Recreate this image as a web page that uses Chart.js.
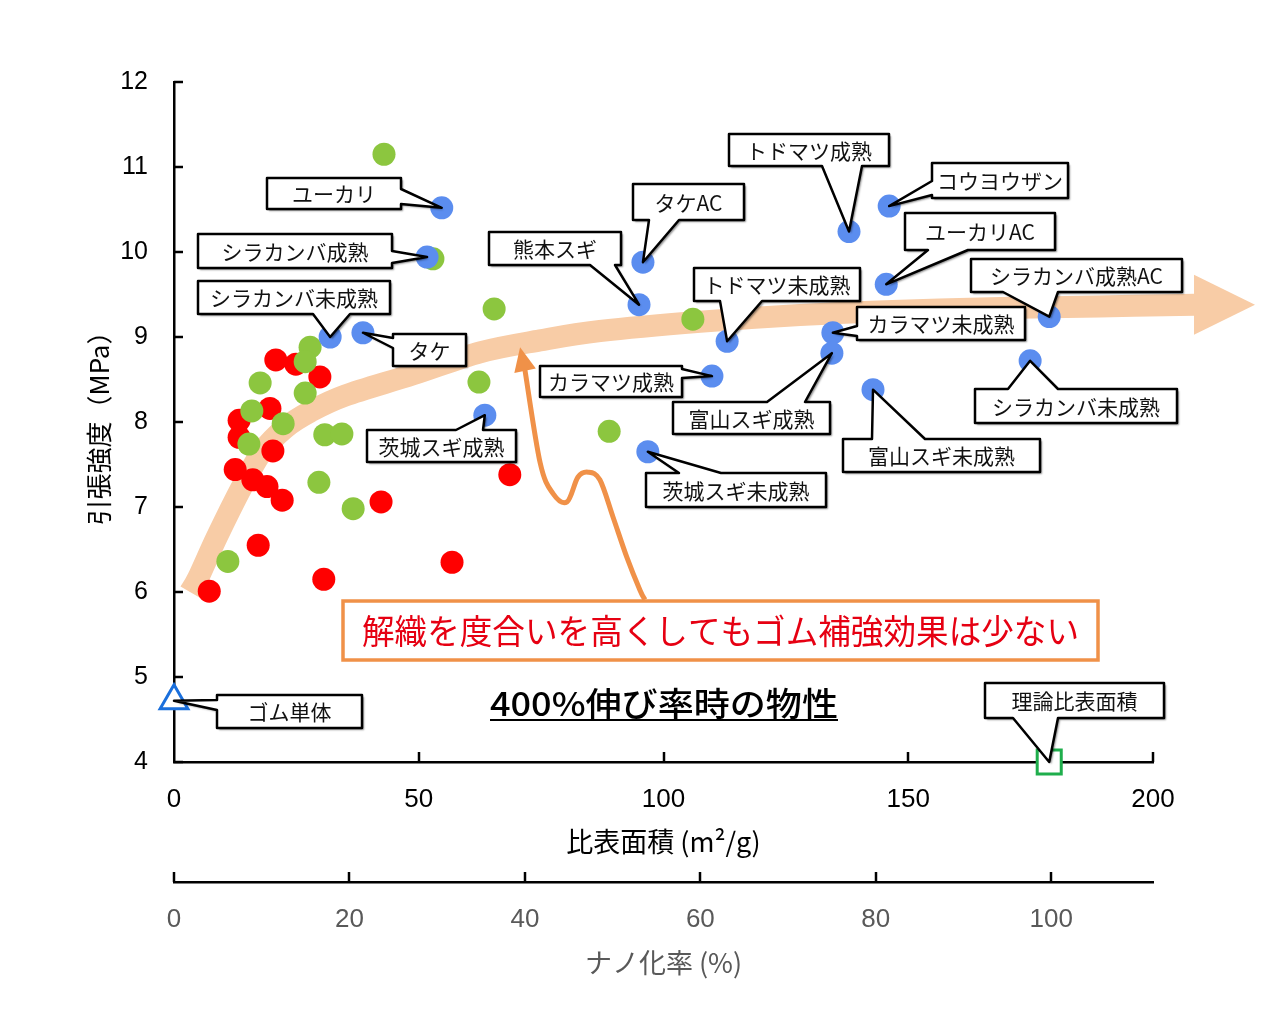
<!DOCTYPE html>
<html><head><meta charset="utf-8">
<script src="https://cdn.jsdelivr.net/npm/chart.js@4.4.0/dist/chart.umd.min.js"></script>
<style>html,body{margin:0;padding:0;background:#fff;}#wrap{width:1280px;height:1023px;}</style>
</head><body><div id="wrap"><canvas id="c" width="1280" height="1023"></canvas></div>
<script>
// ---------- data ----------
const xTicks = [0, 50, 100, 150, 200];
const yTicks = [4, 5, 6, 7, 8, 9, 10, 11, 12];
const nanoTicks = [0, 20, 40, 60, 80, 100];

const blueNames = ['ユーカリ','シラカンバ成熟','シラカンバ未成熟','タケ','茨城スギ成熟','熊本スギ','タケAC','トドマツ成熟','コウヨウザン','ユーカリAC','トドマツ未成熟','カラマツ成熟','茨城スギ未成熟','カラマツ未成熟','富山スギ成熟','富山スギ未成熟','シラカンバ成熟AC','シラカンバ未成熟'];
const blueX = [54.7, 51.7, 31.9, 38.6, 63.5, 95.0, 95.8, 137.9, 146.1, 145.5, 113.0, 109.9, 96.8, 134.6, 134.4, 142.8, 178.8, 174.9];
const blueY = [10.52, 9.94, 9.00, 9.05, 8.08, 9.38, 9.88, 10.24, 10.54, 9.62, 8.95, 8.54, 7.65, 9.05, 8.81, 8.38, 9.24, 8.72];

const greenX = [27.8, 26.8, 17.6, 26.8, 15.9, 22.3, 15.3, 30.8, 34.3, 29.6, 36.6, 11.0, 42.9, 52.9, 65.4, 62.3, 106.0, 88.9];
const greenY = [8.88, 8.71, 8.46, 8.34, 8.13, 7.98, 7.74, 7.85, 7.86, 7.29, 6.98, 6.36, 11.15, 9.92, 9.33, 8.47, 9.21, 7.89];

const redX = [20.8, 24.9, 29.8, 13.3, 19.6, 13.3, 20.2, 12.5, 16.1, 19.0, 22.1, 17.2, 7.2, 30.6, 42.3, 56.8, 68.6];
const redY = [8.73, 8.68, 8.53, 8.02, 8.16, 7.82, 7.66, 7.44, 7.32, 7.24, 7.08, 6.55, 6.01, 6.15, 7.06, 6.35, 7.38];

const rubberName = 'ゴム単体';
const rubberX = [0];
const rubberY = [4.72];
const theoryName = '理論比表面積';
const theoryX = [178.8];
const theoryY = [4.0];

// trend band (decorative arrow) and the thin orange arrow, in data units
const trendX = [3.27, 4.90, 8.78, 13.89, 17.98, 22.68, 27.78, 34.93, 48.82, 62.51, 74.77, 87.03, 107.46, 127.89, 148.31, 168.74, 189.17, 208.58];
const trendY = [6.00, 6.16, 6.65, 7.24, 7.65, 7.93, 8.12, 8.31, 8.56, 8.82, 8.96, 9.07, 9.18, 9.26, 9.31, 9.34, 9.36, 9.38];
const trendTip = [220.84, 9.38];
const wiggleX = [96.2, 95.2, 92.5, 89.7, 87.0, 84.6, 82.5, 80.3, 77.4, 74.8, 71.7];
const wiggleY = [5.91, 6.02, 6.41, 6.88, 7.32, 7.41, 7.35, 7.06, 7.16, 7.52, 8.61];
const wiggleTip = [70.7, 8.88];

const noteText = '解織を度合いを高くしてもゴム補強効果は少ない';
const subTitle = '400%伸び率時の物性';

// ---------- layout of callouts (pixel offsets relative to point) ----------
// [dx, dy, w, h, side, a, b]
const blueCallouts = [
  [-175, -30, 134, 31, 'r', 11, 26],
  [-229, -23, 194, 34, 'r', 17, 29],
  [-132, -56, 192, 33, 'b', 115, 152],
  [30, 1, 73, 32, 'l', 4, 14],
  [-118, 15, 149, 32, 't', 89, 116],
  [-150, -73, 132, 33, 'b', 101, 126],
  [-10, -78, 111, 36, 'b', 16, 46],
  [-120, -98, 160, 32, 'b', 93, 133],
  [43, -43, 136, 35, 'l', 18, 32],
  [19, -71, 150, 37, 'b', 23, 63],
  [-33, -73, 166, 33, 'b', 26, 68],
  [-172, -10, 142, 31, 'r', 3, 12],
  [-2, 21, 180, 34, 't', 33, 75],
  [24, -26, 168, 33, 'l', 19, 29],
  [-159, 49, 157, 32, 't', 94, 132],
  [-30, 49, 197, 33, 't', 29, 82],
  [-78, -58, 211, 33, 'b', 32, 87],
  [-55, 28, 202, 34, 't', 33, 83]
];
const rubberCallout = [43, -6, 145, 33, 'l', 5, 15];
const theoryCallout = [-64, -79, 179, 35, 'b', 28, 73];

const JP = '"Noto Sans CJK JP", "Noto Sans", sans-serif';
const NUM = '"Liberation Sans", Arial, sans-serif';

function pts(xs, ys) { return xs.map((v, i) => ({x: v, y: ys[i]})); }

function smoothPath(ctx, p) {
  ctx.moveTo(p[0][0], p[0][1]);
  for (let i = 0; i < p.length - 1; i++) {
    const p0 = p[i - 1] || p[i], p1 = p[i], p2 = p[i + 1], p3 = p[i + 2] || p2;
    const t = 1 / 6;
    ctx.bezierCurveTo(p1[0] + (p2[0] - p0[0]) * t, p1[1] + (p2[1] - p0[1]) * t,
                      p2[0] - (p3[0] - p1[0]) * t, p2[1] - (p3[1] - p1[1]) * t, p2[0], p2[1]);
  }
}

function calloutPath(ctx, L, T, W, H, side, a, b, tx, ty) {
  ctx.beginPath();
  ctx.moveTo(L, T);
  if (side === 't') { ctx.lineTo(L + a, T); ctx.lineTo(tx, ty); ctx.lineTo(L + b, T); }
  ctx.lineTo(L + W, T);
  if (side === 'r') { ctx.lineTo(L + W, T + a); ctx.lineTo(tx, ty); ctx.lineTo(L + W, T + b); }
  ctx.lineTo(L + W, T + H);
  if (side === 'b') { ctx.lineTo(L + b, T + H); ctx.lineTo(tx, ty); ctx.lineTo(L + a, T + H); }
  ctx.lineTo(L, T + H);
  if (side === 'l') { ctx.lineTo(L, T + b); ctx.lineTo(tx, ty); ctx.lineTo(L, T + a); }
  ctx.closePath();
}

function drawCallout(ctx, px, py, cfg, text) {
  const [dx, dy, w, h, side, a, b] = cfg;
  const L = Math.round(px + dx), T = Math.round(py + dy);
  ctx.save();
  calloutPath(ctx, L, T, w, h, side, a, b, px, py);
  ctx.shadowColor = 'rgba(0,0,0,0.45)';
  ctx.shadowOffsetX = 2; ctx.shadowOffsetY = 2; ctx.shadowBlur = 2;
  ctx.fillStyle = '#fff';
  ctx.fill();
  ctx.shadowColor = 'transparent';
  ctx.lineWidth = 2.5; ctx.strokeStyle = '#000'; ctx.lineJoin = 'round';
  ctx.stroke();
  ctx.fillStyle = '#111';
  ctx.font = '21px ' + JP;
  ctx.textAlign = 'center'; ctx.textBaseline = 'middle';
  ctx.fillText(text, L + w / 2, T + h / 2 + 1);
  ctx.restore();
}

const decor = {
  id: 'decor',
  beforeDatasetsDraw(chart) {
    const ctx = chart.ctx, xs = chart.scales.x, ys = chart.scales.y;
    const X = v => xs.getPixelForValue(v), Y = v => ys.getPixelForValue(v);
    ctx.save();
    // peach trend arrow
    const tp = trendX.map((v, i) => [X(v), Y(trendY[i])]);
    ctx.beginPath(); smoothPath(ctx, tp);
    ctx.strokeStyle = 'rgba(248,204,166,1)'; ctx.lineWidth = 22; ctx.lineCap = 'butt'; ctx.stroke();
    const last = tp[tp.length - 1];
    ctx.beginPath();
    ctx.moveTo(last[0] - 1, last[1] - 30); ctx.lineTo(X(trendTip[0]), Y(trendTip[1])); ctx.lineTo(last[0] - 1, last[1] + 30); ctx.closePath();
    ctx.fillStyle = 'rgba(248,204,166,1)'; ctx.fill();
    // thin orange arrow
    const wp = wiggleX.map((v, i) => [X(v), Y(wiggleY[i])]);
    ctx.beginPath(); smoothPath(ctx, wp);
    ctx.strokeStyle = '#f09148'; ctx.lineWidth = 5; ctx.lineCap = 'butt'; ctx.stroke();
    const wl = wp[wp.length - 1], tx = X(wiggleTip[0]), ty = Y(wiggleTip[1]);
    const ang = Math.atan2(ty - wl[1], tx - wl[0]);
    const hl = 24, hw = 11;
    ctx.beginPath();
    ctx.moveTo(tx, ty);
    ctx.lineTo(tx - hl * Math.cos(ang) + hw * Math.sin(ang), ty - hl * Math.sin(ang) - hw * Math.cos(ang));
    ctx.lineTo(tx - hl * Math.cos(ang) - hw * Math.sin(ang), ty - hl * Math.sin(ang) + hw * Math.cos(ang));
    ctx.closePath(); ctx.fillStyle = '#f09148'; ctx.fill();
    ctx.restore();
  },
  afterDatasetsDraw(chart) {
    const ctx = chart.ctx, xs = chart.scales.x, ys = chart.scales.y;
    const X = v => xs.getPixelForValue(v), Y = v => ys.getPixelForValue(v);
    // callouts
    blueNames.forEach((n, i) => drawCallout(ctx, X(blueX[i]), Y(blueY[i]), blueCallouts[i], n));
    drawCallout(ctx, X(rubberX[0]), Y(rubberY[0]), rubberCallout, rubberName);
    drawCallout(ctx, X(theoryX[0]), Y(theoryY[0]), theoryCallout, theoryName);
    // note box
    ctx.save();
    const bx = 343, by = 601, bw = 755, bh = 59;
    ctx.fillStyle = '#fff'; ctx.fillRect(bx, by, bw, bh);
    ctx.strokeStyle = '#f09148'; ctx.lineWidth = 3.5; ctx.strokeRect(bx, by, bw, bh);
    ctx.font = '34px ' + JP; ctx.fillStyle = '#e60012';
    ctx.textAlign = 'center'; ctx.textBaseline = 'middle';
    const mw = ctx.measureText(noteText).width, target = 717;
    ctx.translate(bx + bw / 2, by + bh / 2 + 1);
    ctx.scale(target / mw, 1);
    ctx.fillText(noteText, 0, 0);
    ctx.restore();
    // subtitle
    ctx.save();
    ctx.font = '500 33px ' + JP; ctx.fillStyle = '#000';
    ctx.textAlign = 'center'; ctx.textBaseline = 'middle';
    const sw = ctx.measureText(subTitle).width, st = 348;
    ctx.translate(664, 703);
    ctx.scale(st / sw, 1);
    ctx.fillText(subTitle, 0, 0);
    ctx.restore();
    ctx.save();
    ctx.fillStyle = '#000'; ctx.fillRect(490, 719, 348, 2);
    ctx.restore();
  },
  afterDraw(chart) {
    const ctx = chart.ctx, xs = chart.scales.x, ys = chart.scales.y, x2 = chart.scales.x2;
    ctx.save();
    ctx.strokeStyle = '#000'; ctx.lineWidth = 2.5; ctx.lineCap = 'butt';
    ys.ticks.forEach(t => { const y = Math.round(ys.getPixelForValue(t.value)); ctx.beginPath(); ctx.moveTo(xs.left, y); ctx.lineTo(xs.left + 9, y); ctx.stroke(); });
    xs.ticks.forEach(t => { if (t.value === 0) return; const x = Math.round(xs.getPixelForValue(t.value)); ctx.beginPath(); ctx.moveTo(x, ys.bottom); ctx.lineTo(x, ys.bottom - 10); ctx.stroke(); });
    x2.ticks.forEach(t => { const x = Math.round(x2.getPixelForValue(t.value)); ctx.beginPath(); ctx.moveTo(x, x2.top); ctx.lineTo(x, x2.top - 10); ctx.stroke(); });
    ctx.restore();
  }
};

const circle = (color) => ({ pointStyle: 'circle', pointRadius: 11.5, pointHoverRadius: 11.5, pointBackgroundColor: color, pointBorderWidth: 0, borderWidth: 0, backgroundColor: color, showLine: false, clip: false });

new Chart(document.getElementById('c'), {
  type: 'scatter',
  data: {
    datasets: [
      Object.assign({ label: 'blue', data: pts(blueX, blueY) }, circle('#5b8def')),
      Object.assign({ label: 'green', data: pts(greenX, greenY) }, circle('#8cc63f')),
      Object.assign({ label: 'red', data: pts(redX, redY) }, circle('#ff0000')),
      { label: rubberName, data: pts(rubberX, rubberY), pointStyle: 'triangle', pointRadius: 16, pointBorderWidth: 3, pointBorderColor: '#1a6fdc', pointBackgroundColor: '#fff', clip: false },
      { label: theoryName, data: pts(theoryX, theoryY), pointStyle: 'rect', pointRadius: 17, pointBorderWidth: 3, pointBorderColor: '#1fae4c', pointBackgroundColor: '#fff', clip: false }
    ]
  },
  options: {
    responsive: false, animation: false, devicePixelRatio: 1,
    layout: { padding: { top: 82, right: 127, left: 0, bottom: 0 } },
    plugins: { legend: { display: false }, tooltip: { enabled: false } },
    events: [],
    scales: {
      x: {
        type: 'linear', position: 'bottom', min: 0, max: 200,
        afterBuildTicks: s => { s.ticks = xTicks.map(v => ({ value: v })); },
        afterFit: s => { s.height = 120; },
        ticks: { font: { family: NUM, size: 26 }, color: '#000', padding: 22, maxRotation: 0, autoSkip: false },
        grid: { drawOnChartArea: false, drawTicks: false },
        border: { display: true, color: '#000', width: 2.5 },
        title: { display: true, text: '比表面積 (m²/g)', font: { family: JP, size: 27 }, color: '#000', padding: { top: 0, bottom: 24 } }
      },
      x2: {
        type: 'linear', axis: 'x', position: 'bottom', min: 0, max: 111.6,
        afterBuildTicks: s => { s.ticks = nanoTicks.map(v => ({ value: v })); },
        afterFit: s => { s.height = 141; },
        ticks: { font: { family: NUM, size: 26 }, color: '#595959', padding: 22, maxRotation: 0, autoSkip: false },
        grid: { drawOnChartArea: false, drawTicks: false },
        border: { display: true, color: '#000', width: 2.5 },
        title: { display: true, text: 'ナノ化率 (%)', font: { family: JP, size: 27 }, color: '#595959', padding: { top: 0, bottom: 44 } }
      },
      y: {
        type: 'linear', position: 'left', min: 4, max: 12,
        afterBuildTicks: s => { s.ticks = yTicks.map(v => ({ value: v })); },
        afterFit: s => { s.width = 174; },
        ticks: { font: { family: NUM, size: 25 }, color: '#000', padding: 26, autoSkip: false },
        grid: { drawOnChartArea: false, drawTicks: false },
        border: { display: true, color: '#000', width: 2.5 },
        title: { display: true, text: '引張強度（MPa）', font: { family: JP, size: 26 }, color: '#000', padding: { top: 84, bottom: 0 } }
      }
    }
  },
  plugins: [decor]
});
</script></body></html>
